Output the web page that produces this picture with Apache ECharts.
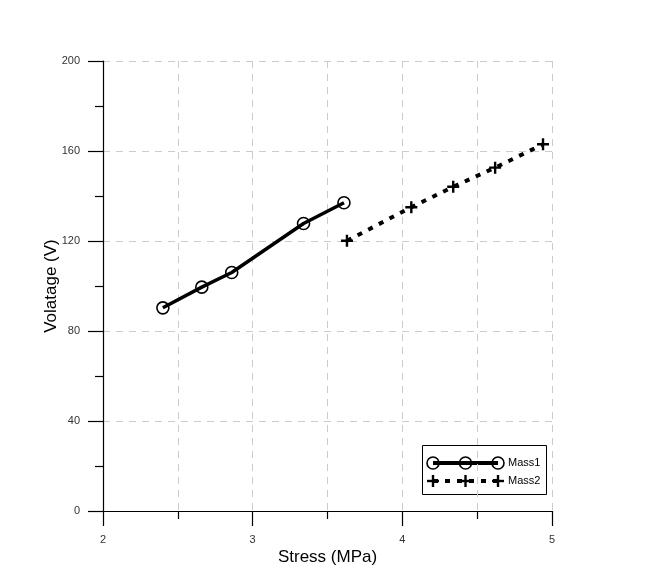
<!DOCTYPE html>
<html>
<head>
<meta charset="utf-8">
<script src="https://cdn.jsdelivr.net/npm/echarts@6/dist/echarts.min.js"></script>
<style>
  html, body { margin: 0; padding: 0; background: #fff; }
  #chart { width: 664px; height: 578px; }
</style>
</head>
<body>
<div id="chart"></div>
<script>
// data
var mass1Stress = [2.40, 2.66, 2.86, 3.34, 3.61];
var mass1Volt = [90.3, 99.5, 106.0, 127.8, 137.0];
var mass2Stress = [3.63, 4.06, 4.34, 4.62, 4.94];
var mass2Volt = [120.1, 135.0, 144.1, 152.6, 163.0];
var seriesNames = ["Mass1", "Mass2"];

var plusPath = "path://M4.4,0h2.2v11h-2.2zM0,4.4h11v2.2h-11z";

function pairs(xs, ys) {
  return xs.map(function (x, i) { return [x, ys[i]]; });
}

var myChart = echarts.init(document.getElementById("chart"));

var gridDash = { color: "#cccccc", width: 1, type: [7, 6] };

// legend drawn by hand: line with three markers like the original
function legendRow(y, kind, name) {
  var x0 = 433, x1 = 498, xs = [433, 465.5, 498];
  var kids = [];
  kids.push({
    type: "line",
    shape: { x1: x0, y1: y, x2: x1, y2: y },
    style: kind === 1
      ? { stroke: "#000", lineWidth: 4 }
      : { stroke: "#000", lineWidth: 4, lineDash: [5, 7] }
  });
  xs.forEach(function (cx) {
    if (kind === 1) {
      kids.push({ type: "circle", shape: { cx: cx, cy: y, r: 6 },
        style: { fill: "none", stroke: "#000", lineWidth: 1.6 } });
    } else {
      kids.push({ type: "rect", shape: { x: cx - 1.2, y: y - 6, width: 2.4, height: 12 }, style: { fill: "#000" } });
      kids.push({ type: "rect", shape: { x: cx - 6, y: y - 1.2, width: 12, height: 2.4 }, style: { fill: "#000" } });
    }
  });
  kids.push({ type: "text", x: 508, y: y, style: { text: name, fill: "#000", font: "11px Arial", verticalAlign: "middle" } });
  return kids;
}

var option = {
  animation: false,
  backgroundColor: "#fff",
  grid: { left: 103, right: 112, top: 61, bottom: 67 },
  xAxis: {
    type: "value",
    min: 2, max: 5, interval: 1,
    name: "Stress (MPa)",
    nameLocation: "middle",
    nameGap: 38,
    nameMoveOverlap: false,
    nameTextStyle: { fontSize: 17, color: "#000", fontFamily: "Arial" },
    axisLine: { onZero: false, lineStyle: { color: "#000", width: 1.2 } },
    axisTick: { length: 15, lineStyle: { color: "#000", width: 1.2 } },
    minorTick: { show: true, splitNumber: 2, length: 8, lineStyle: { color: "#000", width: 1.2 } },
    axisLabel: { fontSize: 11, color: "#333", fontFamily: "Arial", margin: 23 },
    splitLine: { show: true, lineStyle: gridDash },
    minorSplitLine: { show: true, lineStyle: gridDash }
  },
  yAxis: {
    type: "value",
    min: 0, max: 200, interval: 40,
    name: "Volatage (V)",
    nameLocation: "middle",
    nameGap: 43,
    nameMoveOverlap: false,
    nameTextStyle: { fontSize: 17, color: "#000", fontFamily: "Arial" },
    axisLine: { show: true, onZero: false, lineStyle: { color: "#000", width: 1.2 } },
    axisTick: { show: true, length: 15, lineStyle: { color: "#000", width: 1.2 } },
    minorTick: { show: true, splitNumber: 2, length: 8, lineStyle: { color: "#000", width: 1.2 } },
    axisLabel: { fontSize: 11, color: "#333", fontFamily: "Arial", margin: 23 },
    splitLine: { show: true, lineStyle: gridDash }
  },
  series: [
    {
      name: seriesNames[0],
      type: "line",
      data: pairs(mass1Stress, mass1Volt),
      symbol: "circle",
      symbolSize: 12,
      lineStyle: { color: "#000", width: 3.5 },
      itemStyle: { color: "transparent", borderColor: "#000", borderWidth: 1.6 }
    },
    {
      name: seriesNames[1],
      type: "line",
      data: pairs(mass2Stress, mass2Volt),
      symbol: plusPath,
      symbolSize: 12,
      lineStyle: { color: "#000", width: 4, type: [5, 7] },
      itemStyle: { color: "#000" }
    }
  ],
  graphic: [
    {
      type: "group",
      children: [
        { type: "rect", shape: { x: 422.5, y: 445.5, width: 124, height: 49 },
          style: { fill: "#fff", stroke: "#000", lineWidth: 1 } }
      ].concat(legendRow(463, 1, seriesNames[0]), legendRow(481, 2, seriesNames[1]))
    }
  ]
};

myChart.setOption(option, true);
</script>
</body>
</html>
